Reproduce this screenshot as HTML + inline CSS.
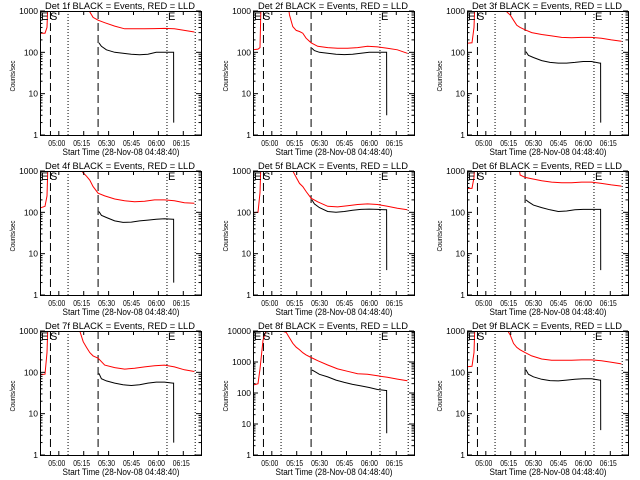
<!DOCTYPE html>
<html><head><meta charset="utf-8"><style>
html,body{margin:0;padding:0;background:#fff;}
svg{display:block;}
text{font-family:"Liberation Sans",sans-serif;fill:#000;}
</style></head><body>
<svg id="chart" width="640" height="480" viewBox="0 0 640 480" xmlns="http://www.w3.org/2000/svg">
<rect width="640" height="480" fill="#fff"/>
</svg>
<script>
const redT=[0,3,4.2,5,6,8,12,16,20,22,24,26,28,30,32,35,39,45,51,57,63,69,75,81,87,93];
const blackT=[35.5,37,40,45,50,55,60,65,70,75,80,80.5,80.55];
const red1=[290,290,400,3000,3000,3000,3000,3000,3000,3000,3000,3000,3000,950,700,600,520,430,370,370,370,375,380,370,340,310];
const red2=[115,120,130,3000,3000,3000,3000,3000,3000,800,420,340,320,290,220,170,140,130,125,125,130,140,135,125,115,95];
const red3=[166,170,400,3000,3000,3000,3000,3000,3000,3000,950,800,600,450,400,350,300,270,250,230,225,230,230,220,200,185];
const red4=[127,140,250,3000,3000,3000,3000,3000,3000,3000,1200,900,750,600,420,290,250,210,190,180,185,200,200,190,170,165];
const red5=[98,100,300,3000,3000,3000,3000,3000,3000,3000,1000,700,500,420,320,220,180,140,135,145,155,160,155,140,125,115];
const red6=[380,380,700,3000,3000,3000,3000,3000,3000,3000,3000,3000,3000,3000,800,700,650,580,540,520,520,540,540,500,460,430];
const red7=[87,90,300,3000,3000,3000,3000,3000,3000,3000,1000,550,400,300,250,220,150,130,120,125,135,145,150,135,115,105];
const red8=[180,200,600,1500,5000,11000,11000,10500,9000,6000,4000,3000,2500,2000,1700,1400,1100,800,600,500,420,400,360,320,280,250];
const red9=[137,140,300,3000,3000,3000,3000,3000,3000,3000,1100,800,500,400,350,300,250,210,195,195,195,200,200,190,175,160];
const black1=[170,140,115,100,95,90,87,90,100,100,100,100,2];
const black2=[125,110,100,95,90,88,90,95,100,100,100,100,3];
const black3=[104,85,75,63,57,55,55,57,60,60,55,55,2];
const black4=[105,85,75,62,57,58,62,65,68,70,68,68,2];
const black5=[200,160,130,105,100,105,112,118,120,118,115,115,4];
const black6=[200,180,150,130,115,105,108,115,118,118,118,118,4];
const black7=[95,70,62,55,50,48,50,55,58,58,55,55,2];
const black8=[550,500,400,330,260,220,190,170,150,130,120,120,5];
const black9=[115,90,78,68,63,62,65,68,70,70,65,65,4];
const xTickLabels=['05:00','05:15','05:30','05:45','06:00','06:15'];
const xTickMin=[11.333,26.333,41.333,56.333,71.333,86.333];
const dashedT=[6.3,35];
const dottedT=[16.9,76.5,93.5];

const panels=[
 {n:1,red:red1,black:black1,dec:3},{n:2,red:red2,black:black2,dec:3},{n:3,red:red3,black:black3,dec:3},
 {n:4,red:red4,black:black4,dec:3},{n:5,red:red5,black:black5,dec:3},{n:6,red:red6,black:black6,dec:3},
 {n:7,red:red7,black:black7,dec:3},{n:8,red:red8,black:black8,dec:4},{n:9,red:red9,black:black9,dec:3}];

const NS='http://www.w3.org/2000/svg';
const svg=document.getElementById('chart');
function mk(tag,attrs,parent){const e=document.createElementNS(NS,tag);for(const k in attrs)e.setAttribute(k,attrs[k]);(parent||svg).appendChild(e);return e;}

panels.forEach((p,i)=>{
  const ox=Math.round((i%3)*213.33), oy=Math.floor(i/3)*160;
  const L=ox+40,R=ox+201,T=oy+11,B=oy+135;
  const xs=t=>L+t*(161/97);
  const ys=v=>B-Math.log10(v)*(124/p.dec);
  const g=mk('g',{});
  
  
  const cp=mk('clipPath',{id:'cp'+i},g);
  mk('rect',{x:L,y:T,width:R-L,height:B-T},cp);
  // title
  const tt=mk('text',{x:ox+120,y:oy+9,'text-anchor':'middle','font-size':'9.5',textLength:'150',lengthAdjust:'spacingAndGlyphs'},g);
  tt.textContent='Det '+p.n+'f BLACK = Events, RED = LLD';
  
  
  // vertical lines
  dashedT.forEach(t=>{const l=mk('line',{x1:xs(t),x2:xs(t),y1:T,y2:B,stroke:'#000','stroke-width':1,'stroke-dasharray':'8,4'},g);
    
    });
  dottedT.forEach(t=>{const l=mk('line',{x1:xs(t),x2:xs(t),y1:T,y2:B,stroke:'#000','stroke-width':1,'stroke-dasharray':'1,2'},g);
    
    });
  // series
  const rp=mk('polyline',{points:redT.map((t,k)=>xs(t).toFixed(1)+','+ys(p.red[k]).toFixed(1)).join(' '),fill:'none',stroke:'#ff0000','stroke-width':1,'clip-path':'url(#cp'+i+')'},g);
  
  
  const bp=mk('polyline',{points:blackT.map((t,k)=>xs(t).toFixed(1)+','+ys(p.black[k]).toFixed(1)).join(' '),fill:'none',stroke:'#000','stroke-width':1,'clip-path':'url(#cp'+i+')'},g);
  
  
  // markers E S E
  [['E',L+1],['S',L+10],['E',xs(76.5)+1]].forEach(m=>{const e=mk('text',{x:m[1],y:T+9,'font-size':'11'},g);e.textContent=m[0];
    
    });
  // box
  const bx=mk('rect',{x:L+0.5,y:T+0.5,width:R-L,height:B-T,fill:'none',stroke:'#000','stroke-width':1},g);
  
  
  // y ticks
  for(let d=0;d<=p.dec;d++){
    const y=ys(Math.pow(10,d));
    mk('line',{x1:L,x2:L+5,y1:y,y2:y,stroke:'#000'},g);
    mk('line',{x1:R-5,x2:R,y1:y,y2:y,stroke:'#000'},g);
    const tl=mk('text',{x:L-2,y:y+3,'text-anchor':'end','font-size':'8.5'},g);
    tl.textContent=String(Math.pow(10,d));
    
    
    if(d<p.dec)for(let m=2;m<=9;m++){const ym=ys(m*Math.pow(10,d));
      mk('line',{x1:L,x2:L+2.5,y1:ym,y2:ym,stroke:'#000'},g);
      mk('line',{x1:R-2.5,x2:R,y1:ym,y2:ym,stroke:'#000'},g);}
  }
  // x ticks
  xTickMin.forEach((t,k)=>{const x=xs(t);
    mk('line',{x1:x,x2:x,y1:B-4,y2:B,stroke:'#000'},g);
    mk('line',{x1:x,x2:x,y1:T,y2:T+4,stroke:'#000'},g);
    const tl=mk('text',{x:x-2,y:oy+146,'text-anchor':'middle','font-size':'8.5',textLength:'17',lengthAdjust:'spacingAndGlyphs'},g);
    tl.textContent=xTickLabels[k];
    
    });
  const xl=mk('text',{x:ox+121,y:oy+155,'text-anchor':'middle','font-size':'9',textLength:'117',lengthAdjust:'spacingAndGlyphs'},g);
  xl.textContent='Start Time (28-Nov-08 04:48:40)';
  
  
  const yl=mk('text',{x:0,y:0,'text-anchor':'middle','font-size':'7.5',textLength:'31',lengthAdjust:'spacingAndGlyphs',transform:'translate('+(ox+15)+','+(oy+76)+') rotate(-90)'},g);
  yl.textContent='Counts/sec';
  
  
});
</script>
</body></html>
